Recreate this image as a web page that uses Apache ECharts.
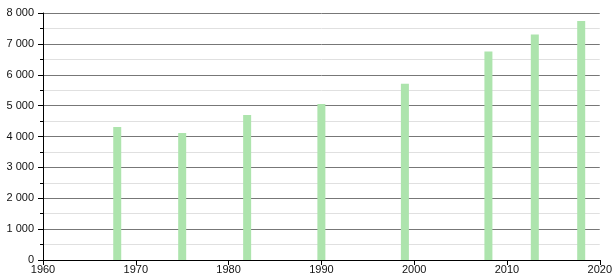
<!DOCTYPE html>
<html><head><meta charset="utf-8">
<script src="https://cdn.jsdelivr.net/npm/echarts@6/dist/echarts.min.js"></script>
<style>html,body{margin:0;padding:0;background:#fff}#c{width:615px;height:280px}</style>
</head><body><div id="c"></div>
<script>
const years = [1968, 1975, 1982, 1990, 1999, 2008, 2013, 2018];
const population = [4310, 4115, 4700, 5055, 5705, 6755, 7305, 7740];
const xTicks = [1960, 1970, 1980, 1990, 2000, 2010, 2020];
const yTicks = [0, 1000, 2000, 3000, 4000, 5000, 6000, 7000, 8000];

const fmt = v => String(v).replace(/\B(?=(\d{3})+(?!\d))/g, ' ');
const chart = echarts.init(document.getElementById('c'));
chart.setOption({
  animation: false,
  grid: {left: 43, right: 11, top: 13, bottom: 20, containLabel: false},
  xAxis: {
    type: 'value', min: xTicks[0], max: xTicks[xTicks.length-1], interval: 10,
    axisLine: {show: true, lineStyle: {color: '#000', width: 1}},
    axisTick: {show: true, length: 5, lineStyle: {color: '#000'}},
    axisLabel: {color: '#111', fontFamily: 'Liberation Sans', fontSize: 11, margin: 4, formatter: v => String(v)},
    splitLine: {show: false}
  },
  yAxis: {
    type: 'value', min: yTicks[0], max: yTicks[yTicks.length-1], interval: 1000,
    axisLine: {show: true, lineStyle: {color: '#000', width: 1}},
    axisTick: {show: true, length: 5, lineStyle: {color: '#000'}},
    minorTick: {show: true, splitNumber: 2, length: 3, lineStyle: {color: '#000'}},
    axisLabel: {color: '#111', fontFamily: 'Liberation Sans', fontSize: 11, margin: 9, formatter: fmt},
    splitLine: {show: true, lineStyle: {color: '#777', width: 1}},
    minorSplitLine: {show: true, lineStyle: {color: '#e0e0e0', width: 1}}
  },
  series: [{
    type: 'bar', barWidth: 8,
    itemStyle: {color: '#ade4ad'},
    data: years.map((y, i) => [y, population[i]])
  }]
});
</script></body></html>
